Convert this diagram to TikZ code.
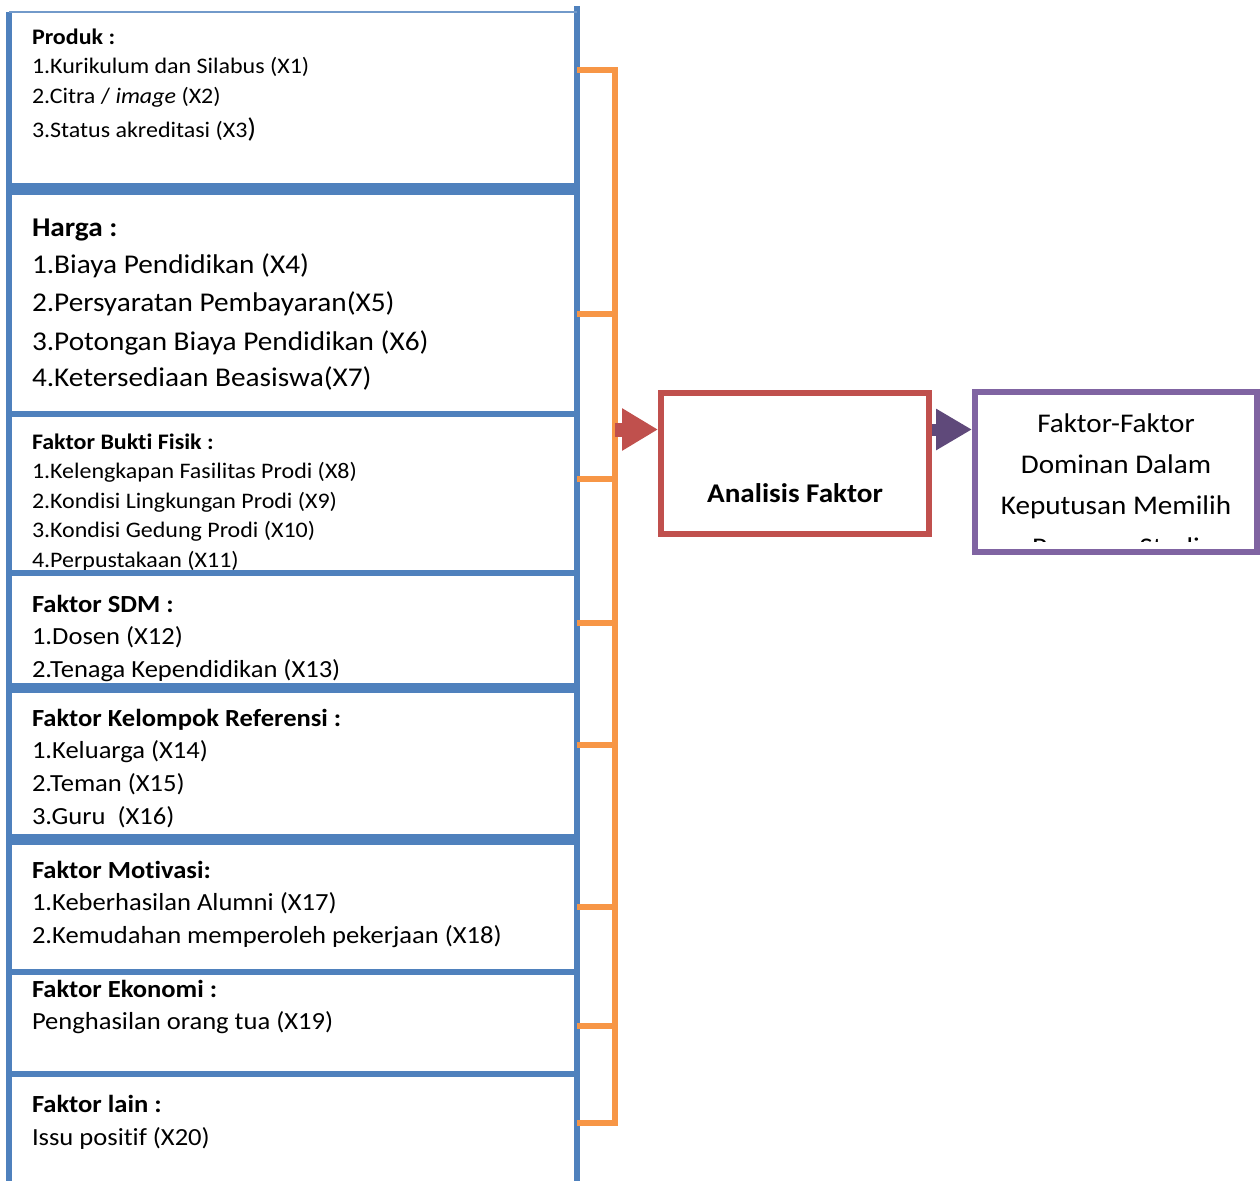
\documentclass[tikz,border=0pt]{standalone}
\usepackage{fontspec}
\setmainfont{Carlito}[FakeStretch=1.08, Ligatures=NoCommon]
\usetikzlibrary{arrows.meta}
\definecolor{bl}{HTML}{4F81BD}
\definecolor{og}{HTML}{F79646}
\definecolor{rd}{HTML}{C0504D}
\definecolor{pu}{HTML}{8064A2}
\definecolor{dp}{HTML}{5F497A}
\begin{document}
\begin{tikzpicture}[x=1pt,y=-1pt,
  bbox/.style={draw=bl, line width=6pt, fill=white, rectangle, outer sep=0pt, inner sep=0pt, minimum width=568pt, anchor=north west},
  txt/.style={anchor=base west, inner sep=0pt, outer sep=0pt},
  ctxt/.style={anchor=base, inner sep=0pt, outer sep=0pt},
  fa/.style={font=\fontsize{22.2}{26}\selectfont},
  fb/.style={font=\fontsize{24.6}{29}\selectfont},
  fc/.style={font=\fontsize{27.1}{32}\selectfont},
  fd/.style={font=\fontsize{27}{32}\selectfont},
  tick/.style={draw=og, line width=6pt},
]
\clip (0,0) rectangle (1260,1180);
\useasboundingbox (0,0) rectangle (1260,1180);
\fill[white] (0,0) rectangle (1260,1180);

% Box 1 : Produk
\node[rectangle, fill=white, outer sep=0pt, inner sep=0pt, minimum width=568pt, minimum height=174pt, anchor=north west] (b1) at (9,12) {};
\draw[bl, line width=6pt] (b1.north west) -- (b1.south west) -- (b1.south east) -- (b1.north east) -- ++(0,-6);
\draw[bl!80, line width=2.5pt] (b1.north west) -- (b1.north east);
\node[txt,fa] (p0) at (32,45) {\textbf{Produk :}};
\node[txt,fa] (p1) at (32,74) {1.Kurikulum dan Silabus (X1)};
\node[txt,fa] (p2) at (32,104) {2.Citra / \textit{image} (X2)};
\node[txt,fa] (p3) at (32,137) {3.Status akreditasi (X3{\fontsize{27}{27}\selectfont )}};

% Box 2 : Harga
\node[bbox, minimum height=222pt] (b2) at (9,192) {};
\node[txt,fc] (h0) at (32,236) {\textbf{Harga :}};
\node[txt,fc] (h1) at (32,273) {1.Biaya Pendidikan (X4)};
\node[txt,fc] (h2) at (32,311) {2.Persyaratan Pembayaran(X5)};
\node[txt,fc] (h3) at (32,350) {3.Potongan Biaya Pendidikan (X6)};
\node[txt,fc] (h4) at (32,386) {4.Ketersediaan Beasiswa(X7)};

% Box 3 : Bukti Fisik
\node[bbox, minimum height=158.7pt] (b3) at (9,414) {};
\node[txt,fa] (f0) at (32,449) {\textbf{Faktor Bukti Fisik :}};
\node[txt,fa] (f1) at (32,478) {1.Kelengkapan Fasilitas Prodi (X8)};
\node[txt,fa] (f2) at (32,508) {2.Kondisi Lingkungan Prodi (X9)};
\node[txt,fa] (f3) at (32,537) {3.Kondisi Gedung Prodi (X10)};
\node[txt,fa] (f4) at (32,567) {4.Perpustakaan (X11)};

% Box 4 : SDM
\node[bbox, minimum height=113.3pt] (b4) at (9,572.7) {};
\node[txt,fb] (s0) at (32,612) {\textbf{Faktor SDM :}};
\node[txt,fb] (s1) at (32,644) {1.Dosen (X12)};
\node[txt,fb] (s2) at (32,677) {2.Tenaga Kependidikan (X13)};

% Box 5 : Kelompok Referensi
\node[bbox, minimum height=147pt] (b5) at (9,690) {};
\node[txt,fb] (k0) at (32,726) {\textbf{Faktor Kelompok Referensi :}};
\node[txt,fb] (k1) at (32,758) {1.Keluarga (X14)};
\node[txt,fb] (k2) at (32,791) {2.Teman (X15)};
\node[txt,fb] (k3) at (32,824) {3.Guru\ \ (X16)};

% Box 6 : Motivasi
\node[bbox, minimum height=130pt] (b6) at (9,842) {};
\node[txt,fb] (m0) at (32,878) {\textbf{Faktor Motivasi:}};
\node[txt,fb] (m1) at (32,910) {1.Keberhasilan Alumni (X17)};
\node[txt,fb] (m2) at (32,943) {2.Kemudahan memperoleh pekerjaan (X18)};

% Box 7 : Ekonomi
\node[bbox, minimum height=102pt] (b7) at (9,972) {};
\node[txt,fb] (e0) at (32,997) {\textbf{Faktor Ekonomi :}};
\node[txt,fb] (e1) at (32,1029) {Penghasilan orang tua (X19)};

% Box 8 : lain
\node[bbox, minimum height=140pt] (b8) at (9,1074) {};
\node[txt,fb] (l0) at (32,1112) {\textbf{Faktor lain :}};
\node[txt,fb] (l1) at (32,1145) {Issu positif (X20)};

% orange bracket
\coordinate (t1) at (615,70);
\coordinate (t2) at (615,314);
\coordinate (t3) at (615,479);
\coordinate (t4) at (615,623);
\coordinate (t5) at (615,745);
\coordinate (t6) at (615,907);
\coordinate (t7) at (615,1026);
\coordinate (t8) at (615,1123);
\coordinate (ay) at (615,429.5);
\draw[tick] (b1.east |- t1) -- (t1) -- (t8) -- (b8.east |- t8);
\draw[tick] (b2.east |- t2) -- (t2);
\draw[tick] (b3.east |- t3) -- (t3);
\draw[tick] (b4.east |- t4) -- (t4);
\draw[tick] (b5.east |- t5) -- (t5);
\draw[tick] (b6.east |- t6) -- (t6);
\draw[tick] (b7.east |- t7) -- (t7);

% Analisis Faktor
\node[draw=rd, line width=6pt, fill=white, rectangle, outer sep=3pt, inner sep=0pt,
      minimum width=268pt, minimum height=141pt, anchor=north west] (an) at (658,390) {};
\node[ctxt,fd] (ant) at (795,502) {\textbf{Analisis Faktor}};

% Output box
\node[draw=pu, line width=6pt, fill=white, rectangle, outer sep=3pt, inner sep=0pt,
      minimum width=281.5pt, minimum height=160.3pt, anchor=north west] (out) at (972,388.7) {};
\node[ctxt,fd] (o1) at (1116,432) {Faktor-Faktor};
\node[ctxt,fd] (o2) at (1116,473) {Dominan Dalam};
\node[ctxt,fd] (o3) at (1116,514) {Keputusan Memilih};
\begin{scope}
  \clip (975,395) rectangle (1256,541.5);
  \node[ctxt,fd] (o4) at (1116,556) {Program Studi};
\end{scope}

% arrows
\draw[rd, line width=14pt, -{Triangle[length=36pt,width=40pt]}] (ay) -- (an.west |- ay);
\draw[dp, line width=12pt, -{Triangle[length=36pt,width=39pt]}] (an.east |- ay) -- (out.west |- ay);
\end{tikzpicture}
\end{document}
